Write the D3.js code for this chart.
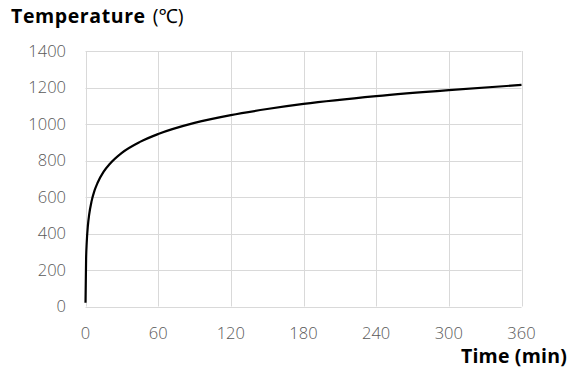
<!DOCTYPE html>
<html>
<head>
<meta charset="utf-8">
<script src="https://cdn.jsdelivr.net/npm/d3@7"></script>
<style>
  body { margin: 0; background: #fff; }
  svg { display: block; }
</style>
</head>
<body>
<svg id="chart" width="575" height="375"></svg>
<script>
// Fire temperature over time
const timeMin = [0, 0.5, 1, 2, 3, 5, 7.5, 10, 15, 20, 30, 45, 60, 90, 120, 150, 180, 240, 300, 360];
const tempC   = [20, 261, 349, 445, 502, 576, 636, 678, 739, 781, 842, 902, 945, 1006, 1049, 1082, 1110, 1153, 1186, 1214];
const xTicks = [0, 60, 120, 180, 240, 300, 360];
const yTicks = [0, 200, 400, 600, 800, 1000, 1200, 1400];

const svg = d3.select("#chart");
const font = "'Open Sans', 'Noto Sans', sans-serif";
const plot = { left: 85.5, right: 521.5, top: 51, bottom: 306.5 };

const x = d3.scaleLinear().domain([0, 360]).range([plot.left, plot.right]);
const y = d3.scaleLinear().domain([0, 1400]).range([plot.bottom, plot.top]);

// grid
const grid = svg.append("g").attr("stroke", "#d9d9d9").attr("stroke-width", 1);
grid.selectAll("line.h").data(yTicks).join("line").attr("class", "h")
  .attr("x1", plot.left).attr("x2", plot.right)
  .attr("y1", d => Math.round(y(d)) + 0.5).attr("y2", d => Math.round(y(d)) + 0.5);
grid.selectAll("line.v").data(xTicks).join("line").attr("class", "v")
  .attr("y1", plot.top).attr("y2", plot.bottom)
  .attr("x1", d => Math.round(x(d)) + 0.5).attr("x2", d => Math.round(x(d)) + 0.5);

// tick labels
svg.append("g").selectAll("text").data(yTicks).join("text")
  .attr("x", 66).attr("y", d => y(d)).attr("dy", "0.36em")
  .attr("text-anchor", "end")
  .attr("font-family", font).attr("font-size", 16.5).attr("font-weight", 300).attr("fill", "#595959")
  .text(d => d);
svg.append("g").selectAll("text").data(xTicks).join("text")
  .attr("x", d => x(d)).attr("y", 339)
  .attr("text-anchor", "middle")
  .attr("font-family", font).attr("font-size", 16.5).attr("font-weight", 300).attr("fill", "#595959")
  .text(d => d);

// curve
const pts = timeMin.map((t, i) => [t, tempC[i]]);
svg.append("path").datum(pts)
  .attr("fill", "none").attr("stroke", "#000").attr("stroke-width", 2.2)
  .attr("stroke-linejoin", "round")
  .attr("d", d3.line().x(d => x(d[0])).y(d => y(d[1])).curve(d3.curveMonotoneX));

// axis titles
const yTitle = svg.append("text").attr("x", 11).attr("y", 23)
  .attr("font-family", font).attr("font-size", 19.5).attr("font-weight", "bold")
  .attr("letter-spacing", 0.6).attr("fill", "#000");
yTitle.append("tspan").text("Temperature");
yTitle.append("tspan").attr("dx", 7).attr("font-weight", "normal").attr("letter-spacing", 0).text("(℃)");
svg.append("text").attr("x", 567).attr("y", 363).attr("text-anchor", "end")
  .attr("font-family", font).attr("font-size", 19.5).attr("font-weight", "bold")
  .attr("letter-spacing", 0.2).attr("fill", "#000")
  .text("Time (min)");
</script>
</body>
</html>
